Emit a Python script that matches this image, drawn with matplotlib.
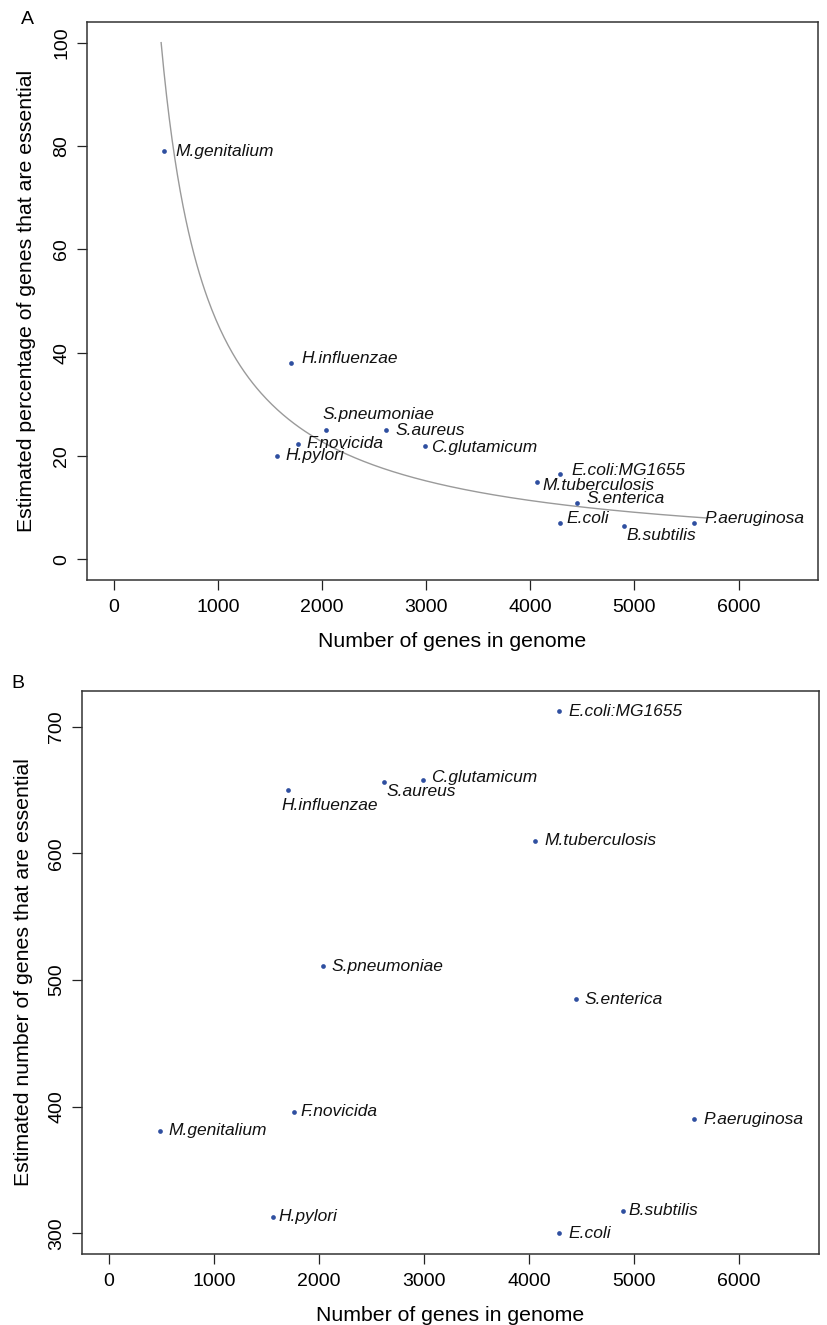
import numpy as np
import matplotlib
matplotlib.use("Agg")
from matplotlib import pyplot as plt

plt.rcParams['font.family'] = ['Liberation Sans', 'DejaVu Sans']

species = ["M.genitalium", "H.influenzae", "S.pneumoniae", "S.aureus", "F.novicida",
           "H.pylori", "C.glutamicum", "E.coli:MG1655", "M.tuberculosis", "S.enterica",
           "E.coli", "B.subtilis", "P.aeruginosa"]
genes = [482, 1705, 2035, 2615, 1765, 1565, 2990, 4285, 4060, 4445, 4285, 4895, 5570]
pct_essential = [79.0, 38.0, 25.0, 25.0, 22.4, 20.0, 22.0, 16.6, 15.0, 10.9, 7.0, 6.5, 7.0]
n_essential = [381, 650, 511, 656, 396, 313, 658, 712, 610, 485, 300, 318, 390]

# fitted curve  pct = k / genes
curve_k = 45500
curve_end = 5700

# label offsets in points (dx, dy), default is to the right of the point
offsets_a = {"S.pneumoniae": (-2, 11), "M.tuberculosis": (4.5, -3), "B.subtilis": (2, -7),
             "E.coli:MG1655": (8.5, 2), "C.glutamicum": (4.5, -1.2), "E.coli": (4.5, 3),
             "P.aeruginosa": (8, 3), "S.enterica": (7, 3), "H.influenzae": (7.5, 3),
             "M.genitalium": (8, 0)}
offsets_b = {"H.influenzae": (-5, -11), "S.aureus": (2.4, -6.7), "H.pylori": (3.5, 0),
             "B.subtilis": (4, 0), "F.novicida": (4.5, 0), "C.glutamicum": (6, 2)}

dot_color = "#2f4fa0"
spine_color = "#333333"


def style_axes(ax, yticks):
    ax.set_xlim(-260, 6760)
    ax.set_xticks(range(0, 7000, 1000))
    ax.set_yticks(yticks)
    ax.tick_params(direction="out", length=7, width=0.9, pad=7, labelsize=14, color="#222222")
    ax.tick_params(axis="y", pad=5)
    for lbl in ax.get_yticklabels():
        lbl.set_rotation(90)
        lbl.set_va("center")
    for s in ax.spines.values():
        s.set_color(spine_color)
        s.set_linewidth(1.1)


def label_points(ax, ys, offsets):
    for name, x, y in zip(species, genes, ys):
        dx, dy = offsets.get(name, (6.5, 0))
        ax.annotate(name, (x, y), xytext=(dx, dy), textcoords="offset points",
                    ha="left", va="center", fontsize=12.5, style="italic", color="#111111")


fig = plt.figure(figsize=(8.27, 13.25), dpi=100)

# panel A
ax1 = fig.add_axes([0.1048, 0.5623, 0.884, 0.4211])
xs = np.linspace(curve_k / 100, curve_end, 400)
ax1.plot(xs, curve_k / xs, color="#9a9a9a", lw=1.0)
ax1.plot(genes, pct_essential, "o", color=dot_color, ms=3.4, mec="none")
label_points(ax1, pct_essential, offsets_a)
ax1.set_ylim(-4, 104)
style_axes(ax1, range(0, 101, 20))
ax1.set_xlabel("Number of genes in genome", fontsize=15.3, labelpad=11)
ax1.set_ylabel("Estimated percentage of genes that are essential", fontsize=15.3, labelpad=12)
fig.text(27.5 / 827, 1 - 19 / 1325, "A", fontsize=14, ha="center", va="center")

# panel B
ax2 = fig.add_axes([0.0988, 0.0536, 0.8915, 0.4251])
ax2.plot(genes, n_essential, "o", color=dot_color, ms=3.4, mec="none")
label_points(ax2, n_essential, offsets_b)
ax2.set_ylim(283.7, 728.4)
style_axes(ax2, range(300, 701, 100))
ax2.set_xlabel("Number of genes in genome", fontsize=15.3, labelpad=11)
ax2.set_ylabel("Estimated number of genes that are essential", fontsize=15.3, labelpad=11)
fig.text(18 / 827, 1 - 683 / 1325, "B", fontsize=14, ha="center", va="center")

fig.savefig("out.png", dpi=100)
